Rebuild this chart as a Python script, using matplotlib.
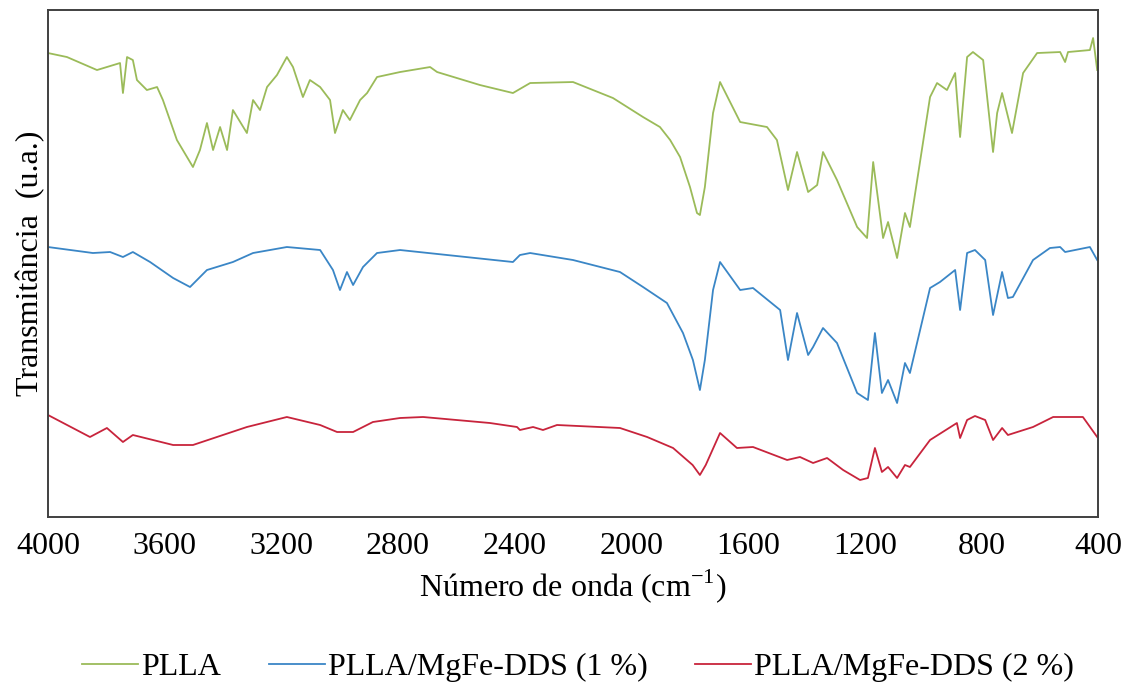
import numpy as np
import matplotlib.pyplot as plt

plt.rcParams['font.family'] = ['Liberation Serif', 'DejaVu Serif']

# wavenumber (cm-1) and transmittance (arbitrary units)
pla_w = [4000, 3935, 3832, 3753, 3743, 3729, 3709, 3695, 3661, 3626, 3606, 3558, 3503,
         3479, 3455, 3434, 3410, 3386, 3366, 3318, 3297, 3273, 3249, 3215, 3181, 3160,
         3126, 3102, 3067, 3033, 3016, 2989, 2965, 2930, 2906, 2872, 2793, 2690, 2666,
         2519, 2406, 2347, 2200, 2063, 1960, 1902, 1867, 1833, 1799, 1775, 1765, 1748,
         1720, 1696, 1627, 1535, 1501,
         1463, 1432, 1394, 1363, 1343, 1295, 1226, 1192, 1171, 1137, 1120, 1089, 1062,
         1045, 976, 952, 918, 890, 873, 849, 829, 794, 760, 746, 729, 695, 657, 609,
         530, 513, 503, 428, 417, 403]
pla_t = [464, 460, 447, 454, 424, 460, 457, 437, 427, 430, 417, 377, 350,
         367, 394, 367, 390, 367, 407, 384, 417, 407, 430, 442, 460, 450,
         420, 437, 430, 417, 384, 407, 397, 417, 424, 440, 445, 450, 445,
         432, 424, 434, 435, 419, 400, 390, 377, 360, 330, 304, 302, 330,
         404, 435, 395, 390, 377,
         327, 365, 325, 332, 365, 337, 290, 279, 355, 279, 295, 259, 304,
         290, 420, 434, 427, 444, 380, 460, 465, 457, 365, 404, 424, 384, 444, 464,
         465, 455, 465, 467, 479, 447]

mg1_w = [4000, 3846, 3787, 3743, 3709, 3650, 3571, 3513, 3455, 3366, 3297, 3181, 3067,
         3023, 2999, 2975, 2954, 2920, 2872, 2793, 2406, 2382, 2347, 2200, 2039, 1960,
         1878, 1823, 1789, 1765, 1748, 1720, 1696, 1627, 1583, 1490, 1463, 1432, 1394,
         1377, 1343, 1295,
         1226, 1189, 1165, 1141, 1120, 1089, 1062, 1045, 976, 942, 890, 873, 849, 822,
         787, 760, 729, 709, 692, 623, 565, 530, 513, 428, 403]
mg1_t = [270, 264, 265, 260, 265, 255, 239, 230, 247, 255, 264, 270, 267,
         247, 227, 245, 232, 250, 264, 267, 255, 262, 264, 257, 245, 230,
         214, 184, 157, 127, 157, 227, 255, 227, 229, 207, 157, 204, 162,
         170, 189, 174,
         124, 117, 184, 124, 137, 114, 154, 144, 229, 235, 247, 207, 264, 267,
         257, 202, 245, 219, 220, 257, 269, 270, 265, 270, 257]

mg2_w = [4000, 3856, 3798, 3743, 3709, 3571, 3503, 3318, 3181, 3067, 3009, 2954, 2886,
         2793, 2714, 2485, 2392, 2382, 2337, 2303, 2255, 2039, 1946, 1857, 1790, 1765,
         1745, 1696,
         1638, 1583, 1466, 1422, 1377, 1329, 1274, 1216, 1189, 1165, 1141, 1120, 1089,
         1062, 1045, 976, 884, 873, 849, 822, 787, 760, 729, 709, 623, 554, 452, 403]
mg2_t = [102, 80, 89, 75, 82, 72, 72, 90, 100, 92, 85, 85, 95,
         99, 100, 94, 90, 87, 90, 87, 92, 89, 80, 69, 52, 42,
         52, 84,
         69, 70, 57, 60, 54, 59, 47, 37, 39, 69, 45, 50, 39,
         52, 50, 77, 94, 79, 97, 101, 97, 77, 89, 82, 90, 100, 100, 80]

labels = ['PLLA', 'PLLA/MgFe-DDS (1 %)', 'PLLA/MgFe-DDS (2 %)']
colors = ['#9bbb59', '#3a86c6', '#c8243c']

fig = plt.figure(figsize=(11.29, 6.92), dpi=100)
ax = fig.add_axes([0.0425, 0.2529, 0.9301, 0.7326])

ax.plot(pla_w, pla_t, color=colors[0], lw=1.3, label=labels[0])
ax.plot(mg1_w, mg1_t, color=colors[1], lw=1.3, label=labels[1])
ax.plot(mg2_w, mg2_t, color=colors[2], lw=1.3, label=labels[2])

ax.set_xlim(4000, 400)
ax.set_ylim(0, 507)
ax.set_xticks(np.arange(4000, 399, -400))
ax.set_yticks([])
ax.tick_params(axis='x', length=0, labelsize=23, pad=11)
for s in ax.spines.values():
    s.set_color('#404040')
    s.set_linewidth(1.4)

ax.set_xlabel('Número de onda (cm$^{\\mathregular{-1}}$)', fontsize=23, labelpad=4)
ax.set_ylabel('Transmitância  (u.a.)', fontsize=23, labelpad=2)

fig.legend(loc='center', bbox_to_anchor=(0.512, 0.035), ncol=3, frameon=False,
           fontsize=23, handlelength=1.75, handletextpad=0.1, columnspacing=1.5)

fig.savefig('out.png', dpi=100)
